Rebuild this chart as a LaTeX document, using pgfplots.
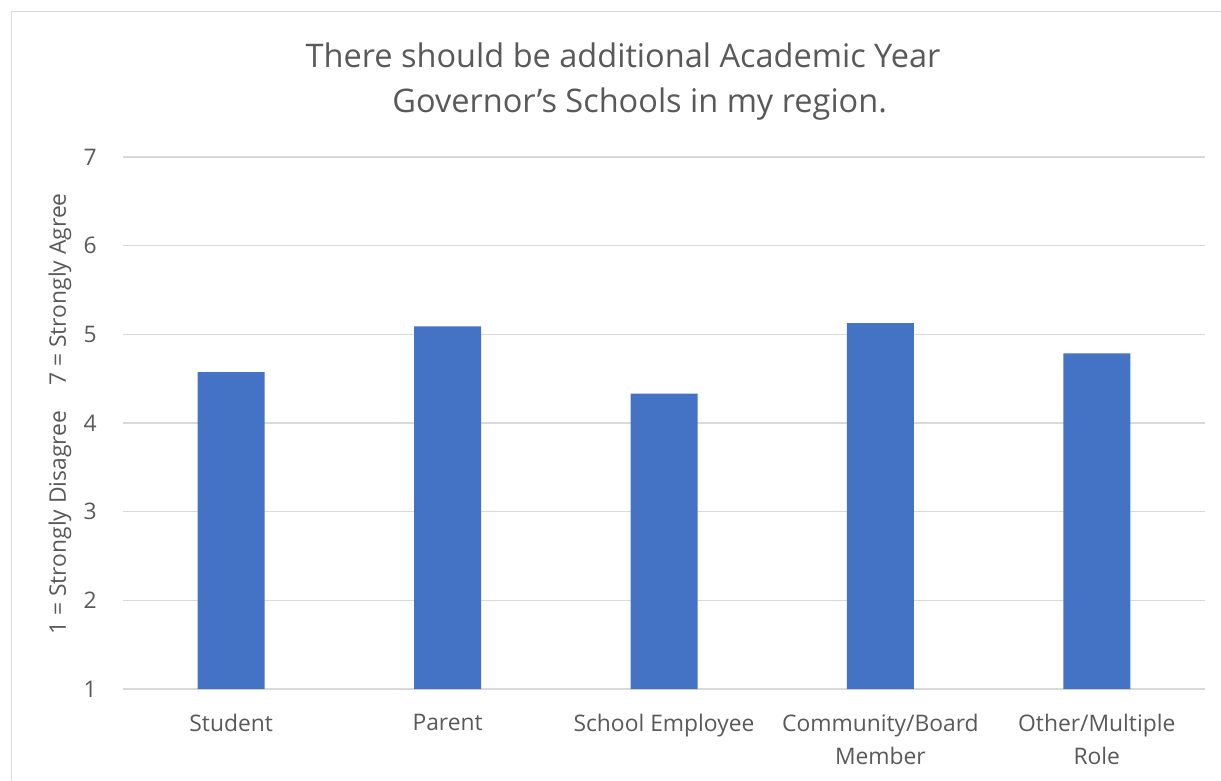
\documentclass[border=0pt]{standalone}
\usepackage{fontspec}
\setmainfont{Open Sans}
\usepackage{pgfplots}
\pgfplotsset{compat=1.18}
\definecolor{barblue}{HTML}{4472C4}
\definecolor{gridgray}{HTML}{D9D9D9}
\definecolor{txtgray}{HTML}{595959}
\begin{document}
\begin{tikzpicture}
\path[use as bounding box] (-73.8pt,-54.6pt) rectangle (658.8pt,413.4pt);
\fill[white] (-73.8pt,-54.6pt) rectangle (658.8pt,413.4pt);
\draw[gridgray, line width=1pt] (-66.9pt,-60pt) -- (-66.9pt,406.5pt) -- (665pt,406.5pt);
\begin{axis}[
  at={(0pt,0pt)}, anchor=south west,
  scale only axis, width=649.2pt, height=319.2pt,
  xmin=-0.5, xmax=4.5, ymin=1, ymax=7,
  ytick={1,2,3,4,5,6,7},
  xtick={0,1,2,3,4},
  xticklabels={Student, Parent, School Employee, {Community/Board\\Member}, {Other/Multiple\\Role}},
  axis line style={draw=none},
  axis x line*=bottom,
  x axis line style={draw=gridgray, line width=0.9pt},
  ymajorgrids, grid style={gridgray, line width=0.9pt},
  major tick length=0pt,
  tick label style={font=\fontsize{13.7}{19.8}\selectfont, text=txtgray},
  /pgf/number format/assume math mode=true,
  yticklabel style={inner sep=0pt, xshift=-15.6pt},
  xticklabel style={inner sep=0pt, align=center, anchor=north, yshift=-15pt},
  ybar, bar width=40.2pt,
]
\addplot[fill=barblue, draw=none] coordinates {(0,4.575) (1,5.09) (2,4.33) (3,5.125) (4,4.785)};
\end{axis}
\node[anchor=base, text=txtgray, font=\fontsize{19.5}{25}\selectfont] at (300pt,372.6pt) {There should be additional Academic Year};
\node[anchor=base, text=txtgray, font=\fontsize{19.5}{25}\selectfont] at (310pt,346pt) {Governor’s Schools in my region.};
\node[rotate=90, text=txtgray, font=\fontsize{13.7}{16}\selectfont, inner sep=0pt] at (-37.8pt,165pt) {1 = Strongly Disagree\hspace{1.1em}7 = Strongly Agree};
\end{tikzpicture}
\end{document}
